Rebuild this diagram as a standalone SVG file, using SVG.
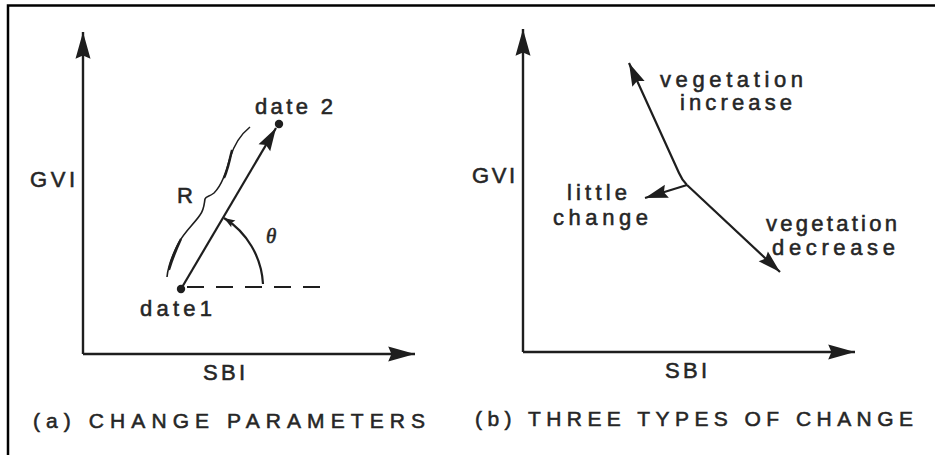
<svg xmlns="http://www.w3.org/2000/svg" width="935" height="455" viewBox="0 0 935 455">
<style>
text{font-family:"Liberation Sans",Arial,sans-serif;fill:#262626;stroke:#262626;stroke-width:0.55;}
.lbl{font-size:22px;}
.big{font-size:22px;}
.cap{font-size:21px;}
.ax{stroke:#1e1e1e;stroke-width:2.4;fill:none;}
.ln{stroke:#1e1e1e;stroke-width:2.2;fill:none;}
</style>
<defs>
<marker id="axh" markerUnits="userSpaceOnUse" markerWidth="30" markerHeight="20" viewBox="-26 -8 28 16" refX="0" refY="0" orient="auto">
<path d="M0,0 L-25,-7 L-22,0 L-25,7 Z" fill="#1e1e1e"/>
</marker>
<marker id="vh" markerUnits="userSpaceOnUse" markerWidth="26" markerHeight="16" viewBox="-23 -7 25 14" refX="0" refY="0" orient="auto">
<path d="M0,0 L-22,-6.5 L-19,0 L-22,6.5 Z" fill="#1e1e1e"/>
</marker>
<marker id="sh" markerUnits="userSpaceOnUse" markerWidth="14" markerHeight="10" viewBox="-12 -5 13 10" refX="0" refY="0" orient="auto">
<path d="M0,0 L-11,-4 L-9,0 L-11,4 Z" fill="#1e1e1e"/>
</marker>
</defs>
<rect width="935" height="455" fill="#fff"/>
<g id="frame">
<path d="M8,455 L8,5.5 L935,5.5" stroke="#000" stroke-width="2.5" fill="none"/>
</g>
<g id="panel-a">
<g id="a-axes">
<path class="ax" d="M83,354 L83,32" marker-end="url(#axh)"/>
<path class="ax" d="M83,354 L415,354" marker-end="url(#axh)"/>
</g>
<g id="a-gvi"><text class="big" x="30" y="187" textLength="45" lengthAdjust="spacing">GVI</text></g>
<g id="a-sbi"><text class="big" x="203" y="380" textLength="42" lengthAdjust="spacing">SBI</text></g>
<g id="a-date1">
<circle cx="181" cy="289" r="4.2" fill="#1e1e1e"/>
<text class="lbl" x="140" y="316" textLength="72" lengthAdjust="spacing">date1</text>
</g>
<g id="a-date2">
<circle cx="279" cy="124" r="4.2" fill="#1e1e1e"/>
<text class="lbl" x="255" y="114" textLength="78" lengthAdjust="spacing">date 2</text>
</g>
<g id="a-R">
<path d="M250,127 C240,135 234,145 230,158 C226,172 222,185 214,193 C209,197 206,196 205,199 C204,205 204,210 200,215 C194,224 184,232 178,244 C172,256 168,266 167,277" stroke="#1e1e1e" stroke-width="1.6" fill="none"/>
<path d="M232,150 C229,160 228,170 224,178 C228,170 230,160 232,150 Z M181,239 C175,250 171,260 169,270 C172,260 176,250 181,239 Z" stroke="#1e1e1e" stroke-width="2.2" fill="#1e1e1e"/>
<text class="big" x="177" y="203">R</text>
</g>
<g id="a-theta"><text x="266" y="243" style="font-family:'Liberation Serif','Times New Roman',serif;font-style:italic;font-size:21px">θ</text></g>
<g id="a-connectors">
<path class="ln" d="M181,289 L276,128" marker-end="url(#vh)"/>
<path class="ln" d="M187,287 L326,287" stroke-dasharray="17 12"/>
<path class="ln" d="M263,284 A83,83 0 0 0 224,218" marker-end="url(#sh)"/>
</g>
<text class="cap" x="33" y="428" textLength="392" lengthAdjust="spacing">(a) CHANGE PARAMETERS</text>
</g>
<g id="panel-b">
<g id="b-axes">
<path class="ax" d="M523,352 L523,29" marker-end="url(#axh)"/>
<path class="ax" d="M523,352 L855,352" marker-end="url(#axh)"/>
</g>
<g id="b-gvi"><text class="big" x="472" y="183" textLength="43" lengthAdjust="spacing">GVI</text></g>
<g id="b-sbi"><text class="big" x="665" y="378" textLength="42" lengthAdjust="spacing">SBI</text></g>
<g id="b-increase"><text class="big" x="660" y="87" textLength="143" lengthAdjust="spacing">vegetation</text><text class="big" x="680" y="110" textLength="112" lengthAdjust="spacing">increase</text></g>
<g id="b-little"><text class="big" x="567" y="200" textLength="60" lengthAdjust="spacing">little</text><text class="big" x="553" y="225" textLength="95" lengthAdjust="spacing">change</text></g>
<g id="b-decrease"><text class="big" x="766" y="231" textLength="131" lengthAdjust="spacing">vegetation</text><text class="big" x="772" y="255" textLength="123" lengthAdjust="spacing">decrease</text></g>
<g id="b-connectors">
<path class="ln" d="M687,185 Q682,180 679,173 L629,63" marker-end="url(#vh)"/>
<path class="ln" d="M687,185 L645,198" marker-end="url(#vh)"/>
<path class="ln" d="M687,185 L780,272" marker-end="url(#vh)"/>
</g>
<text class="cap" x="475" y="426" textLength="438" lengthAdjust="spacing">(b) THREE TYPES OF CHANGE</text>
</g>
</svg>
